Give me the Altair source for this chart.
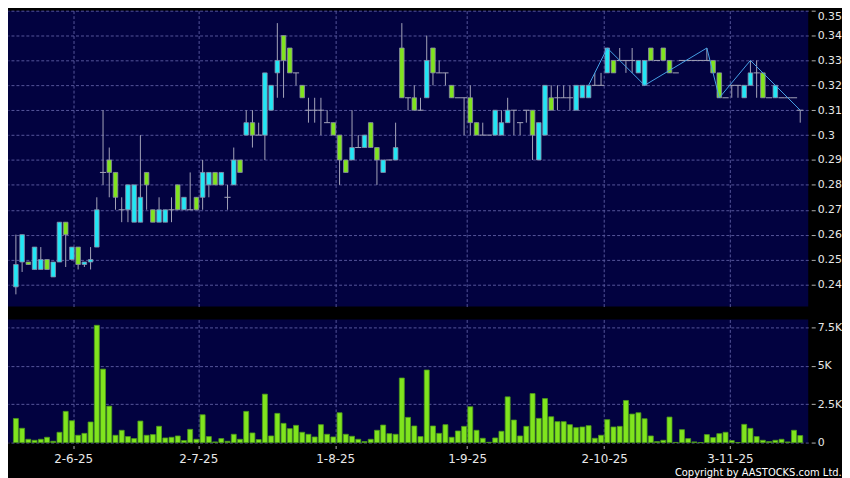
import altair as alt
import pandas as pd

# ---- daily OHLC, one entry per trading day ----
opens = [
    .239, .249, .249, .246, .246, .250, .243, .249, .265, .250,
    .255, .248, .249, .255, .285, .290, .285, .270, .270, .265,
    .265, .285, .270, .265, .265, .270, .280, .270, .270, .275,
    .275, .280, .285, .280, .275, .280, .290, .300, .305, .300,
    .300, .310, .325, .340, .335, .325, .320, .310, .310, .310,
    .305, .305, .300, .290, .290, .295, .295, .305, .295, .285,
    .290, .290, .335, .315, .315, .310, .315, .335, .325, .325,
    .320, .315, .315, .315, .305, .300, .300, .300, .300, .305,
    .310, .305, .310, .310, .290, .300, .315, .315, .315, .315,
    .310, .315, .315, .320, .320, .325, .330, .330, .330, .330,
    .325, .320, .335, .330, .335, .330, .325, .330, .330, .330,
    .330, .330, .330, .325, .315, .320, .320, .315, .320, .325,
    .325, .315, .315, .315, .315, .315, .310,
]
highs = [
    .260, .260, .249, .255, .255, .250, .249, .265, .265, .255,
    .255, .249, .255, .275, .310, .295, .285, .275, .280, .280,
    .300, .285, .270, .275, .270, .275, .280, .275, .285, .275,
    .290, .285, .285, .285, .280, .295, .290, .310, .310, .305,
    .325, .320, .345, .340, .335, .325, .320, .315, .315, .315,
    .310, .305, .300, .290, .310, .300, .300, .305, .295, .290,
    .290, .305, .345, .315, .320, .315, .340, .335, .330, .325,
    .320, .315, .315, .320, .305, .305, .300, .310, .310, .315,
    .310, .305, .310, .310, .305, .320, .320, .320, .320, .320,
    .320, .320, .320, .325, .325, .335, .330, .335, .330, .335,
    .330, .330, .335, .330, .335, .330, .325, .330, .330, .330,
    .330, .335, .330, .325, .315, .320, .320, .320, .330, .330,
    .325, .315, .320, .315, .315, .315, .310,
]
lows = [
    .236, .245, .248, .246, .246, .246, .243, .249, .247, .250,
    .246, .247, .246, .255, .280, .275, .270, .265, .265, .265,
    .265, .270, .265, .265, .265, .265, .270, .270, .270, .270,
    .270, .275, .280, .280, .270, .280, .285, .300, .295, .300,
    .290, .310, .315, .315, .325, .320, .315, .305, .305, .300,
    .305, .300, .280, .285, .290, .295, .295, .295, .280, .285,
    .290, .290, .315, .310, .310, .310, .315, .320, .325, .320,
    .315, .315, .300, .300, .300, .300, .300, .300, .300, .305,
    .300, .300, .305, .290, .290, .300, .310, .310, .315, .310,
    .310, .315, .315, .320, .320, .325, .325, .330, .325, .325,
    .325, .320, .330, .330, .330, .325, .325, .330, .330, .330,
    .330, .330, .325, .315, .315, .315, .315, .315, .320, .315,
    .315, .315, .315, .315, .315, .315, .305,
]
closes = [
    .248, .260, .248, .255, .250, .246, .249, .265, .260, .255,
    .248, .249, .250, .270, .285, .285, .275, .270, .280, .280,
    .275, .280, .265, .270, .270, .270, .270, .275, .270, .270,
    .285, .285, .280, .285, .275, .290, .285, .305, .300, .300,
    .325, .320, .330, .330, .325, .325, .315, .310, .310, .310,
    .305, .300, .290, .285, .295, .295, .300, .295, .290, .290,
    .290, .295, .315, .315, .310, .310, .330, .325, .325, .325,
    .315, .315, .315, .305, .300, .300, .300, .310, .305, .310,
    .310, .305, .310, .300, .305, .320, .310, .315, .315, .315,
    .320, .320, .320, .320, .320, .335, .325, .330, .330, .330,
    .330, .330, .330, .330, .330, .325, .325, .330, .330, .330,
    .330, .330, .325, .315, .315, .320, .320, .320, .325, .325,
    .315, .315, .320, .315, .315, .315, .310,
]
volumes = [
    1570, 930, 215, 150, 215, 345, 86, 670, 2030, 1420,
    475, 600, 1340, 7630, 4780, 2370, 475, 800, 390, 260,
    1400, 475, 520, 1060, 300, 345, 430, 130, 860, 215,
    1810, 390, 43, 260, 86, 540, 215, 2030, 625, 195,
    3150, 430, 1900, 1250, 905, 1120, 670, 540, 365, 1165,
    540, 365, 1940, 540, 410, 215, 65, 215, 800, 1140,
    580, 540, 4200, 1640, 1080, 390, 4720, 1080, 600, 1165,
    345, 755, 1055, 2330, 800, 280, 20, 300, 735, 2975,
    1465, 430, 1055, 3190, 1575, 2865, 1680, 1360, 1360, 1165,
    970, 1015, 1100, 280, 475, 1490, 1015, 1055, 2740, 1855,
    1940, 1550, 430, 65, 150, 1660, 10, 840, 260, 43,
    0, 520, 325, 580, 670, 130, 0, 1185, 925, 390,
    150, 65, 150, 215, 43, 800, 455,
]

# zig-zag overlay (day index, price)
zz_idx = [92, 95, 101, 111, 113, 118, 126]
zz_price = [0.320, 0.335, 0.320, 0.335, 0.315, 0.330, 0.310]

# axis labels
date_labels = ["2-6-25", "2-7-25", "1-8-25", "1-9-25", "2-10-25", "3-11-25"]
date_positions = [9.2, 29.3, 51.3, 72.5, 94.5, 114.7]
price_ticks = [round(0.24 + 0.01 * k, 2) for k in range(12)]
vol_ticks = [0, 2500, 5000, 7500]

# ---- styling ----
CYAN = "#22E6F4"
GREEN = "#80E41E"
VOL_EDGE = "#4C9A1C"
BODY_EDGE = "#8C8CA8"
WICK = "#A4A4B8"
ZZ = "#46A0E6"
GRID = "#56569A"
NAVY = "#020240"
LABEL = "#E8E8E8"
FONT = "DejaVu Sans"

n = len(closes)
df = pd.DataFrame({
    "i": list(range(n)), "open": opens, "high": highs, "low": lows,
    "close": closes, "vol": volumes,
})
df["lo"] = df[["open", "close"]].min(axis=1)
df["hi"] = df[["open", "close"]].max(axis=1)
df["dir"] = ["up" if c > o else ("down" if c < o else "flat") for o, c in zip(opens, closes)]
df["i0"] = df["i"] - 0.5
df["i1"] = df["i"] + 0.5

zzdf = pd.DataFrame({"i": zz_idx, "p": zz_price})

W = 806
xscale = alt.Scale(domain=[-0.47, 126.49], nice=False, zero=False)
pscale = alt.Scale(domain=[0.2311, 0.35], nice=False, zero=False)
vscale = alt.Scale(domain=[0, 8010], nice=False)

label_expr = ("[" + ",".join(f"'{s}'" for s in date_labels) + "][indexof(["
              + ",".join(str(v) for v in date_positions) + "], datum.value)]")

x_axis_p = alt.Axis(values=date_positions, labels=False, ticks=False,
                    domain=False, grid=True)
y_axis_p = alt.Axis(orient="right", values=price_ticks, format=".2~f",
                    grid=True, domain=False, offset=3, tickSize=4,
                    labelPadding=2, labelFontSize=11, labelOverlap=False,
                    labelFlush=True)


def px(field):
    return alt.X(field, scale=xscale, title=None, axis=x_axis_p)


def py(field):
    return alt.Y(field, scale=pscale, title=None, axis=y_axis_p)


base = alt.Chart(df)

wick = base.mark_rule(color=WICK, strokeWidth=1).encode(
    x=px("i:Q"), y=py("low:Q"), y2="high:Q")
body = base.transform_filter("datum.dir != 'flat'").mark_bar(
    size=4.6, stroke=BODY_EDGE, strokeWidth=0.8).encode(
    x=px("i:Q"), y=py("lo:Q"), y2="hi:Q",
    color=alt.Color("dir:N", scale=alt.Scale(domain=["up", "down"], range=[CYAN, GREEN]),
                    legend=None))
doji = base.transform_filter("datum.dir == 'flat'").mark_rule(
    color=WICK, strokeWidth=1).encode(
    x=px("i0:Q"), x2="i1:Q", y=py("close:Q"))
zz = alt.Chart(zzdf).mark_line(color=ZZ, strokeWidth=1).encode(
    x=px("i:Q"), y=py("p:Q"))

price = alt.layer(wick, body, doji, zz).properties(width=W, height=298)

vol = base.mark_bar(size=5, color=GREEN, stroke=VOL_EDGE, strokeWidth=0.8).encode(
    x=alt.X("i:Q", scale=xscale, title=None,
            axis=alt.Axis(values=date_positions, labelExpr=label_expr, grid=True,
                          domain=False, offset=3, tickSize=3, labelPadding=5,
                          labelFontSize=12, labelFlush=False, labelOverlap=False)),
    y=alt.Y("vol:Q", scale=vscale, title=None,
            axis=alt.Axis(orient="right", values=vol_ticks, grid=True, domain=False,
                          offset=3, tickSize=4, labelPadding=2, labelFontSize=11,
                          labelOverlap=False,
                          labelExpr="datum.value == 0 ? '0' : format(datum.value / 1000, '~g') + 'K'")),
).properties(width=W, height=124)

chart = alt.vconcat(price, vol, spacing=13).properties(
    title=alt.TitleParams("Copyright by AASTOCKS.com Ltd.", orient="bottom", anchor="end",
                          fontSize=10, font=FONT, fontWeight="normal", color="#FFFFFF",
                          offset=4),
    padding=0,
    background="#000000",
).configure_view(fill=NAVY, stroke=None).configure_axis(
    labelColor=LABEL, labelFont=FONT, tickColor="#B0B0B0", gridColor=GRID,
    gridDash=[3, 2], gridWidth=1, gridOpacity=1,
)

chart.save("out.html", embed_options={"renderer": "svg", "actions": False})
